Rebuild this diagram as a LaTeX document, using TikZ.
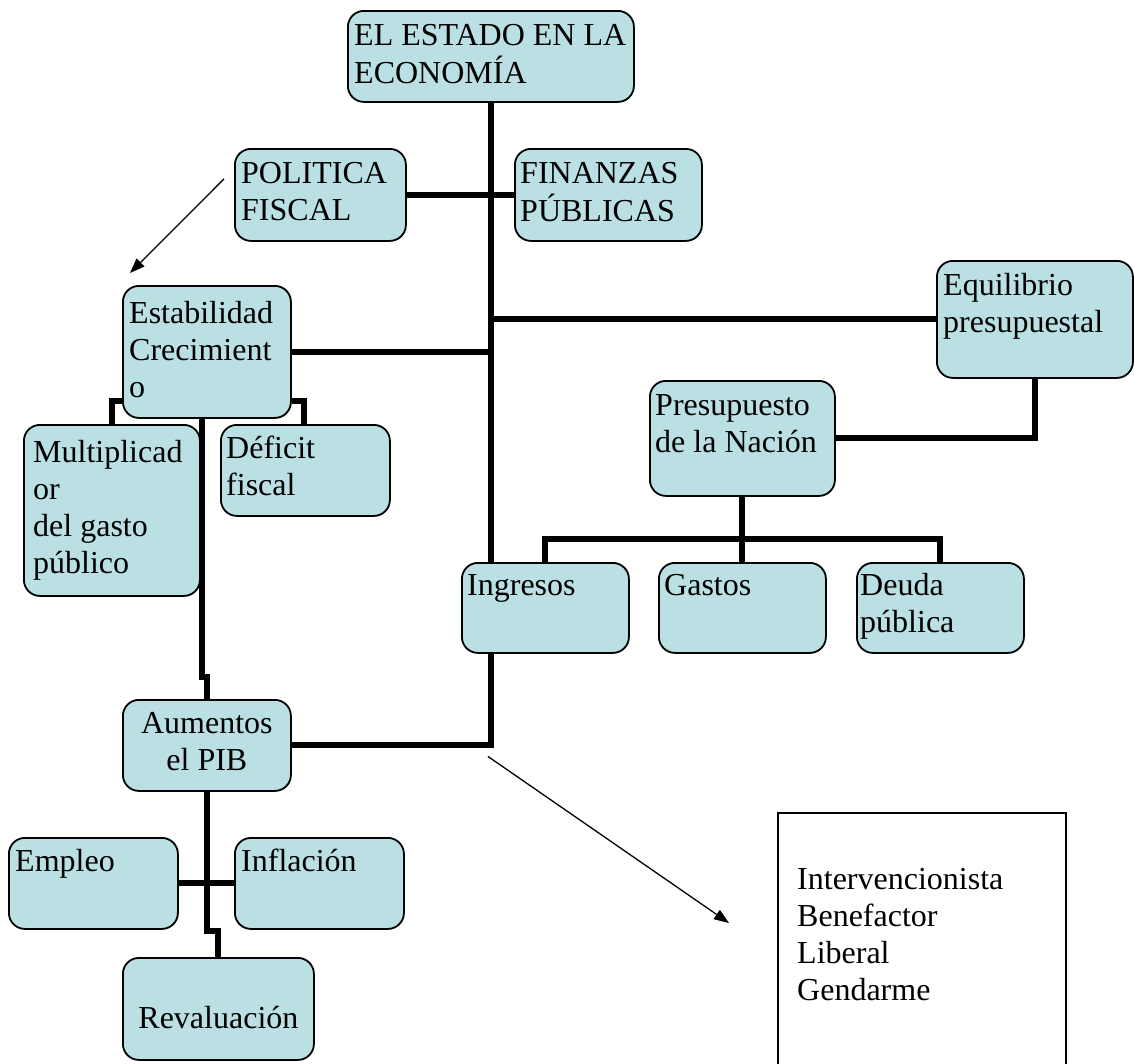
\documentclass[tikz,border=0pt]{standalone}
\usepackage{fontspec}
\setmainfont{Liberation Serif}
\usetikzlibrary{arrows.meta,calc}
\definecolor{boxfill}{RGB}{186,224,227}
% stacked lines whose baseline is the first line
\newcommand\lns[2][l]{\begin{tabular}[t]{@{}#1@{}}#2\end{tabular}}

\begin{document}
\begin{tikzpicture}[x=1pt,y=-1pt,
  cbox/.style={draw=black, line width=1.8pt, fill=boxfill, rounded corners=16pt,
               inner sep=0pt, anchor=north west},
  plainbox/.style={draw=black, line width=2.2pt, fill=white, inner sep=0pt, anchor=north west},
  txt/.style={inner sep=0pt, font=\fontsize{32}{37}\selectfont},
  conn/.style={line width=6pt, line join=miter},
  pointer/.style={line width=1.3pt, -{Triangle[length=15pt,width=11pt]}}]
\clip (0,0) rectangle (1134,1063);
\fill[white] (0,0) rectangle (1134,1063);

% boxes
\node[cbox, minimum width=286pt, minimum height=91pt]  (top) at (347,10)  {};
\node[cbox, minimum width=171pt, minimum height=92pt]  (pol) at (234,148) {};
\node[cbox, minimum width=187pt, minimum height=92pt]  (fin) at (514,148) {};
\node[cbox, minimum width=168pt, minimum height=132pt] (est) at (122,285) {};
\node[cbox, minimum width=176pt, minimum height=171pt] (mul) at (23,424)  {};
\node[cbox, minimum width=169pt, minimum height=91pt]  (def) at (220,424) {};
\node[cbox, minimum width=196pt, minimum height=117pt] (equ) at (936,260) {};
\node[cbox, minimum width=185pt, minimum height=115pt] (pre) at (649,380) {};
\node[cbox, minimum width=167pt, minimum height=90pt]  (ing) at (461,562) {};
\node[cbox, minimum width=167pt, minimum height=90pt]  (gas) at (658,562) {};
\node[cbox, minimum width=167pt, minimum height=90pt]  (deu) at (856,562) {};
\node[cbox, minimum width=168pt, minimum height=91pt]  (aum) at (122,699) {};
\node[cbox, minimum width=169pt, minimum height=91pt]  (emp) at (8,837)   {};
\node[cbox, minimum width=169pt, minimum height=91pt]  (inf) at (234,837) {};
\node[cbox, minimum width=191pt, minimum height=102pt] (rev) at (122,957) {};
\node[plainbox, minimum width=288pt, minimum height=280pt] (typ) at (777,812) {};

% box texts
\node[txt, anchor=base west] (top-t) at ([xshift=7pt,yshift=-35pt]top.north west) {\lns{EL ESTADO EN LA\\ECONOMÍA}};
\node[txt, anchor=base west] (pol-t) at ([xshift=7pt,yshift=-35pt]pol.north west) {\lns{POLITICA\\FISCAL}};
\node[txt, anchor=base west] (fin-t) at ([xshift=6pt,yshift=-35pt]fin.north west) {\lns{FINANZAS\\PÚBLICAS}};
\node[txt, anchor=base west] (est-t) at ([xshift=7pt,yshift=-38pt]est.north west) {\lns{Estabilidad\\Crecimient\\o}};
\node[txt, anchor=base west] (mul-t) at ([xshift=10pt,yshift=-38pt]mul.north west) {\lns{Multiplicad\\or\\del gasto\\público}};
\node[txt, anchor=base west] (def-t) at ([xshift=6pt,yshift=-34pt]def.north west) {\lns{Déficit\\fiscal}};
\node[txt, anchor=base west] (equ-t) at ([xshift=7pt,yshift=-35pt]equ.north west) {\lns{Equilibrio\\presupuestal}};
\node[txt, anchor=base west] (pre-t) at ([xshift=6pt,yshift=-35pt]pre.north west) {\lns{Presupuesto\\de la Nación}};
\node[txt, anchor=base west] (ing-t) at ([xshift=6pt,yshift=-33pt]ing.north west) {Ingresos};
\node[txt, anchor=base west] (gas-t) at ([xshift=6pt,yshift=-33pt]gas.north west) {Gastos};
\node[txt, anchor=base west] (deu-t) at ([xshift=4pt,yshift=-33pt]deu.north west) {\lns{Deuda\\pública}};
\node[txt, anchor=base] (aum-t) at ([yshift=-34pt]aum.north) {\lns[c]{Aumentos\\el PIB}};
\node[txt, anchor=base west] (emp-t) at ([xshift=7pt,yshift=-34pt]emp.north west) {Empleo};
\node[txt, anchor=base west] (inf-t) at ([xshift=7pt,yshift=-34pt]inf.north west) {Inflación};
\node[txt, anchor=base] (rev-t) at ([yshift=-71pt]rev.north) {Revaluación};
\node[txt, anchor=base west] (typ-t) at ([xshift=20pt,yshift=-77pt]typ.north west) {\lns{Intervencionista\\Benefactor\\Liberal\\Gendarme}};

% connectors
\draw[conn] (top.south) -- (top.south |- ing.north);
\draw[conn] (pol.east) -- (fin.west);
\draw[conn] (equ.west) -- (equ.west -| top.south);
\draw[conn] (est.east) -- (est.east -| top.south);
\draw[conn] (ing.south -| top.south) |- (aum.east);
\draw[conn] ([yshift=18pt]est.south west) -| ([xshift=89pt]mul.north west);
\draw[conn] ([yshift=18pt]est.south east) -| ([xshift=84pt]def.north west);
\draw[conn] ([xshift=-5pt]est.south) -- ++(0,258) -| (aum.north);
\draw[conn] (equ.south) |- (pre.east);
\draw[conn] (pre.south) -- ++(0,42) coordinate (bus);
\draw[conn] (ing.north) |- (bus) -| (deu.north);
\draw[conn] (gas.north) -- (bus);
\draw[conn] (aum.south) -- ++(0,139) -| (rev.north);
\draw[conn] (emp.east) -- (inf.west);

% thin arrows
\draw[pointer] ([xshift=-10pt,yshift=16pt]pol.west) -- ([xshift=8pt,yshift=12pt]est.north west);
\draw[pointer] ($(aum.east -| top.south)+(-3,11)$) -- ($(typ.north west)+(-48,111)$);
\end{tikzpicture}
\end{document}
